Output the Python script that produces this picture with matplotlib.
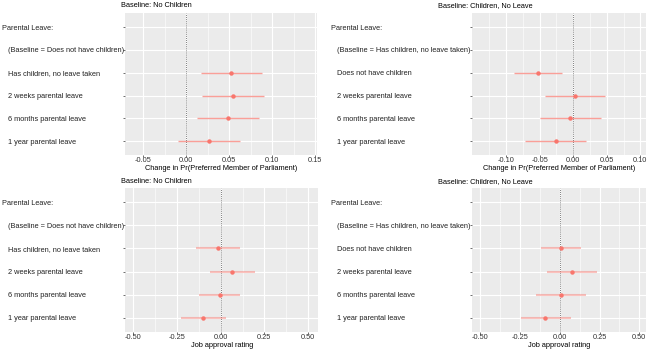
import numpy as np
import matplotlib
matplotlib.use("Agg")
import matplotlib.pyplot as plt
from matplotlib.ticker import FixedLocator, FormatStrFormatter

plt.rcParams['font.family'] = ['Liberation Sans', 'DejaVu Sans']

# ---------------- data ----------------
labels_nochild = ["Parental Leave:", "   (Baseline = Does not have children)",
                  "   Has children, no leave taken", "   2 weeks parental leave",
                  "   6 months parental leave", "   1 year parental leave"]
labels_child = ["Parental Leave:", "   (Baseline = Has children, no leave taken)",
                "   Does not have children", "   2 weeks parental leave",
                "   6 months parental leave", "   1 year parental leave"]

nan = np.nan
# Top-left: Change in Pr(Preferred MP), baseline no children
tl_est = [nan, nan, 0.052, 0.055, 0.049, 0.027]
tl_lo = [nan, nan, 0.017, 0.019, 0.013, -0.010]
tl_hi = [nan, nan, 0.088, 0.091, 0.085, 0.063]
# Top-right: baseline children, no leave
tr_est = [nan, nan, -0.052, 0.0025, -0.0045, -0.026]
tr_lo = [nan, nan, -0.088, -0.042, -0.049, -0.071]
tr_hi = [nan, nan, -0.017, 0.048, 0.041, 0.019]
# Bottom-left: Job approval rating, baseline no children
bl_est = [nan, nan, -0.015, 0.067, -0.006, -0.100]
bl_lo = [nan, nan, -0.140, -0.059, -0.126, -0.230]
bl_hi = [nan, nan, 0.109, 0.195, 0.113, 0.029]
# Bottom-right: Job approval rating, baseline children no leave
br_est = [nan, nan, 0.010, 0.079, 0.006, -0.090]
br_lo = [nan, nan, -0.115, -0.078, -0.149, -0.245]
br_hi = [nan, nan, 0.136, 0.236, 0.163, 0.069]

tl_ticks = [-0.05, 0.00, 0.05, 0.10, 0.15]
tr_ticks = [-0.10, -0.05, 0.00, 0.05, 0.10]
b_ticks = [-0.50, -0.25, 0.00, 0.25, 0.50]

xlab_top = "Change in Pr(Preferred Member of Parliament)"
xlab_bot = "Job approval rating"
title_nochild = "Baseline: No Children"
title_child = "Baseline: Children, No Leave"

# ---------------- figure ----------------
W, H = 648, 351
fig = plt.figure(figsize=(W / 100, H / 100), dpi=100)
FS = 5.3
COL = "#F8766D"


def px_axes(x0, y0, x1, y1):
    return fig.add_axes([x0 / W, 1 - y1 / H, (x1 - x0) / W, (y1 - y0) / H])


def panel(rect, labels, est, lo, hi, ticks, xlim, xlabel, title, title_x, title_y,
          label_x, lw, alpha):
    ax = px_axes(*rect)
    ax.set_facecolor("#EBEBEB")
    for s in ax.spines.values():
        s.set_visible(False)
    y = np.arange(1, len(labels) + 1)
    ax.set_xlim(*xlim)
    ax.set_ylim(len(labels) + 0.6, 0.4)
    ax.xaxis.set_major_locator(FixedLocator(ticks))
    step = ticks[1] - ticks[0]
    minors = [t + step / 2 for t in [ticks[0] - step] + ticks]
    ax.xaxis.set_minor_locator(FixedLocator(minors))
    ax.xaxis.set_major_formatter(FormatStrFormatter("%.2f"))
    ax.grid(which="major", color="white", lw=0.8)
    ax.grid(which="minor", axis="x", color="white", lw=0.4)
    ax.set_axisbelow(True)
    ax.axvline(0, color="#555555", ls=(0, (1, 1.5)), lw=0.6, zorder=2)
    ax.hlines(y, lo, hi, color=COL, lw=lw, alpha=alpha, zorder=3)
    ax.plot(est, y, "o", color=COL, ms=3.2, mec="none", zorder=4)
    ax.set_yticks(y, labels)
    # left-aligned y labels starting at label_x (px)
    ticklen = 1.4
    pad_pt = (rect[0] - label_x) * 0.72 - ticklen
    ax.tick_params(axis="y", length=ticklen, width=0.5, color="#333333",
                   pad=pad_pt, labelsize=FS, labelcolor="#222222")
    for t in ax.get_yticklabels():
        t.set_horizontalalignment("left")
    ax.tick_params(axis="x", which="major", length=1.2, width=0.5, color="#333333",
                   pad=0.6, labelsize=FS, labelcolor="#333333")
    ax.tick_params(axis="x", which="minor", length=0)
    ax.set_xlabel(xlabel, fontsize=FS, labelpad=0.5, color="black")
    fig.text(title_x / W, 1 - title_y / H, title, ha="center", va="center",
             fontsize=FS, color="black")
    return ax


panel((125, 13.3, 317, 155), labels_nochild, tl_est, tl_lo, tl_hi, tl_ticks,
      (-0.071, 0.152), xlab_top, title_nochild, 156, 5.2, 1.7, 1.0, 0.7)
panel((471.7, 13.3, 645.7, 155), labels_child, tr_est, tr_lo, tr_hi, tr_ticks,
      (-0.151, 0.108), xlab_top, title_child, 485.5, 5.2, 330.7, 1.0, 0.7)
panel((125, 188.3, 318.3, 331.7), labels_nochild, bl_est, bl_lo, bl_hi, b_ticks,
      (-0.548, 0.559), xlab_bot, title_nochild, 156, 181.7, 1.7, 1.5, 0.45)
panel((471.7, 188.3, 645.7, 331.7), labels_child, br_est, br_lo, br_hi, b_ticks,
      (-0.553, 0.54), xlab_bot, title_child, 485.5, 181.7, 330.7, 1.5, 0.45)

fig.savefig("out.png", dpi=100, facecolor="white")
